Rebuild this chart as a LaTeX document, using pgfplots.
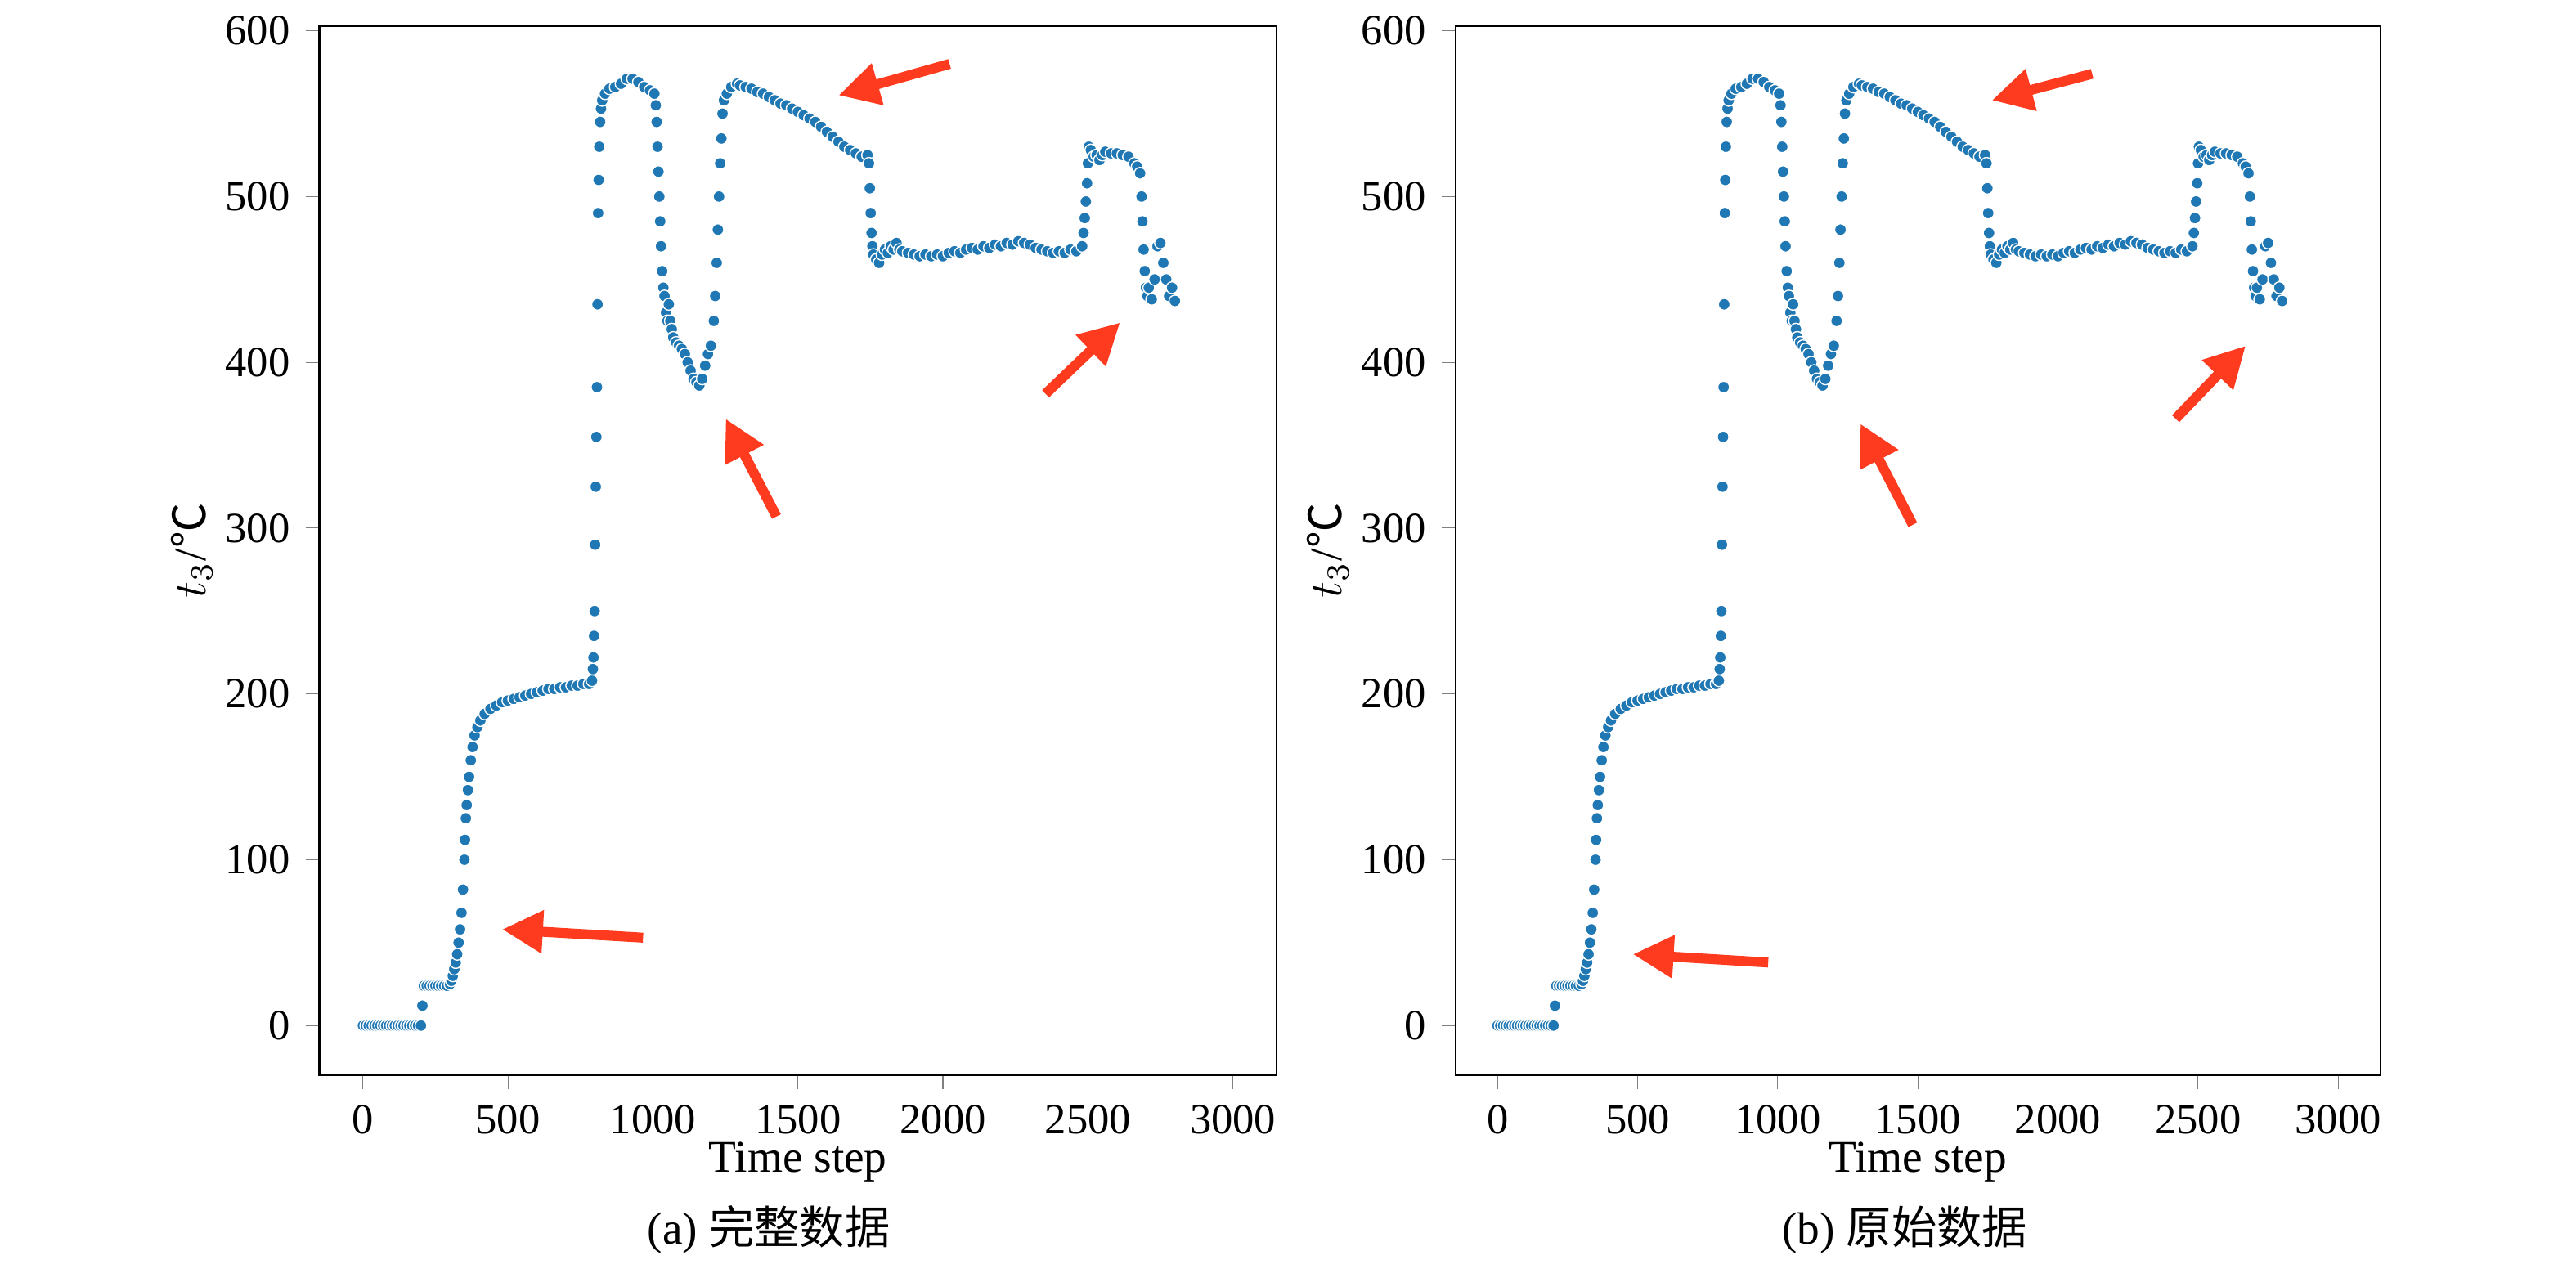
\documentclass[border=0pt]{standalone}
\usepackage{pgfplots}
\pgfplotsset{compat=1.18}
\usepackage{pgfplotstable}
\usepackage{fontspec}
\setmainfont{Liberation Serif}
\newfontfamily\cjk{Noto Sans CJK SC}
\usetikzlibrary{arrows.meta}
\definecolor{dot}{HTML}{1F77B4}
\definecolor{arr}{HTML}{FF3B1F}
\pgfplotstableread{
x y
0 0
10 0
20 0
30 0
40 0
50 0
60 0
70 0
80 0
90 0
100 0
110 0
120 0
130 0
140 0
150 0
160 0
170 0
180 0
190 0
200 0
205 12
210 24
220 24
230 24
240 24
250 24
260 24
270 24
280 24
290 24
300 25
305 27
310 30
315 34
320 38
325 43
330 50
335 58
340 68
345 82
350 100
352 112
355 125
358 133
362 142
366 150
372 160
378 168
385 175
395 180
405 184
420 188
440 191
460 193
480 195
500 196
520 197
540 198
560 199
580 200
600 201
620 202
640 203
660 203
680 204
700 204
720 205
740 205
760 206
780 206
790 208
793 215
795 222
797 235
799 250
801 290
803 325
805 355
807 385
809 435
811 490
813 510
815 530
818 545
821 553
825 558
835 562
850 565
870 566
890 568
910 571
930 571
950 569
970 566
990 564
1005 562
1010 555
1013 545
1016 530
1019 515
1022 500
1025 485
1028 470
1032 455
1036 445
1040 440
1045 430
1050 425
1055 435
1060 425
1065 420
1070 415
1080 412
1090 410
1100 408
1110 405
1120 400
1130 395
1140 390
1150 388
1160 386
1170 390
1180 398
1190 405
1200 410
1210 425
1215 440
1220 460
1224 480
1228 500
1232 520
1236 535
1240 550
1245 558
1255 562
1270 566
1290 568
1300 567
1320 566
1340 565
1360 563
1380 562
1400 560
1420 558
1440 556
1460 555
1480 553
1500 551
1520 549
1540 547
1560 545
1580 542
1600 539
1620 536
1640 533
1660 530
1680 528
1700 526
1720 524
1740 525
1745 520
1748 505
1751 490
1754 478
1757 470
1760 465
1770 462
1780 460
1790 465
1800 468
1810 466
1820 470
1830 468
1840 472
1850 468
1860 467
1880 466
1900 465
1920 464
1940 465
1960 464
1980 465
2000 464
2020 466
2040 467
2060 466
2080 468
2100 469
2120 468
2140 470
2160 469
2180 471
2200 470
2220 472
2240 471
2260 473
2280 472
2300 471
2320 469
2340 468
2360 467
2380 466
2400 467
2420 466
2440 468
2460 467
2480 470
2485 478
2489 487
2493 497
2497 508
2500 520
2503 530
2510 528
2520 524
2530 525
2540 522
2550 525
2560 527
2580 526
2600 526
2620 525
2640 524
2660 520
2670 518
2680 514
2685 500
2688 485
2692 468
2696 455
2700 445
2705 440
2710 445
2720 438
2730 450
2740 470
2750 472
2760 460
2770 450
2780 440
2790 445
2800 437
}\dataA
\pgfplotsset{
  myax/.style={
    xmin=-150, xmax=3150, ymin=-30, ymax=603,
    xtick={0,500,...,3000}, ytick={0,100,...,600},
    tick align=outside, xtick pos=left, ytick pos=left,
    major tick length=3pt,
    /pgf/number format/assume math mode=true,
    /pgf/number format/1000 sep={},
    tick label style={font=\fontsize{9.5}{11}\selectfont},
    label style={font=\fontsize{10}{12}\selectfont},
    xlabel={Time step},
    xlabel style={yshift=5pt},
    ylabel style={yshift=-4pt},
    ylabel={$t_3$/{\cjk ℃}},
    height=8.15cm, scale only axis,
    anchor=south west,
  },
  dots/.style={only marks, mark=*, mark size=1.3pt,
    mark options={fill=dot, draw=white, line width=0.25pt}},
}
\tikzset{ar/.style={arr, line width=2.2pt, -{Triangle[length=9pt,width=9pt]}}}
\begin{document}
\begin{tikzpicture}
\path[use as bounding box] (0,0) rectangle (20cm,9.85cm);
\begin{axis}[myax, width=7.43cm, at={(2.48cm,1.5cm)}]
\addplot[dots] table {\dataA};
\draw[ar] (axis cs:966,53) -- (axis cs:480,58);
\draw[ar] (axis cs:1426,307) -- (axis cs:1251,366);
\draw[ar] (axis cs:2023,580) -- (axis cs:1640,561);
\draw[ar] (axis cs:2354,381) -- (axis cs:2611,424);
\end{axis}
\begin{axis}[myax, width=7.18cm, at={(11.3cm,1.5cm)}]
\addplot[dots] table {\dataA};
\draw[ar] (axis cs:966,38) -- (axis cs:483,43);
\draw[ar] (axis cs:1482,302) -- (axis cs:1295,363);
\draw[ar] (axis cs:2122,574) -- (axis cs:1764,558);
\draw[ar] (axis cs:2420,366) -- (axis cs:2670,410);
\end{axis}
\node[font=\fontsize{10}{12}\selectfont] at (5.97cm,0.3cm) {(a) {\cjk 完整数据}};
\node[font=\fontsize{10}{12}\selectfont] at (14.79cm,0.3cm) {(b) {\cjk 原始数据}};
\end{tikzpicture}
\end{document}
